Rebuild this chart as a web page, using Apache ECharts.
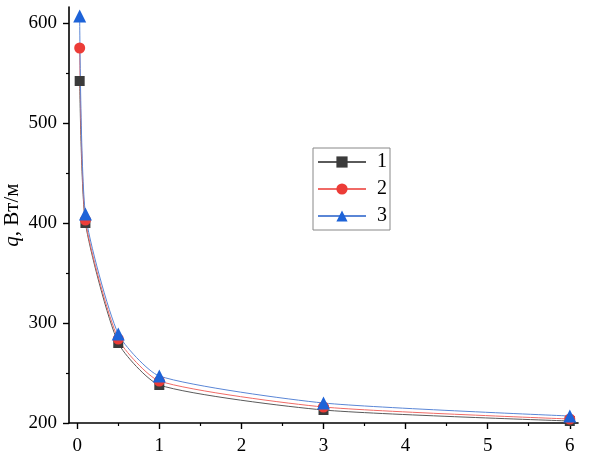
<!DOCTYPE html>
<html>
<head>
<meta charset="utf-8">
<script src="https://cdn.jsdelivr.net/npm/echarts@6/dist/echarts.min.js"></script>
<style>
  html, body { margin: 0; padding: 0; background: #fff; }
  #chart { width: 590px; height: 460px; }
</style>
</head>
<body>
<div id="chart"></div>
<script>
// данные
const xValues = [0.03, 0.1, 0.5, 1, 3, 6];
const series1 = [542, 400, 280, 238, 213, 202];
const series2 = [575, 403, 284, 242, 216, 204];
const series3 = [607, 409, 289, 247, 220, 207];
const seriesNames = ['1', '2', '3'];
const xTicks = [0, 1, 2, 3, 4, 5, 6];
const xMinorTicks = [0.5, 1.5, 2.5, 3.5, 4.5, 5.5];
const yTicks = [200, 300, 400, 500, 600];
const yMinorTicks = [250, 350, 450, 550];

const pairs = (ys) => xValues.map((x, i) => [x, ys[i]]);

const font = 'Liberation Serif, Times New Roman, serif';
const chart = echarts.init(document.getElementById('chart'));

const baseX = {
  type: 'value',
  min: -0.1,
  max: 6.1,
  splitLine: { show: false }
};
const baseY = {
  type: 'value',
  min: 200,
  max: 616,
  splitLine: { show: false }
};

const option = {
  animation: false,
  grid: { left: 69, right: 12, top: 7, bottom: 37, containLabel: false, outerBoundsMode: 'none' },
  legend: {
    left: 313,
    top: 148,
    orient: 'vertical',
    data: seriesNames,
    itemWidth: 48,
    itemHeight: 14,
    itemGap: 7,
    padding: [4, 3, 4, 4],
    borderColor: '#888',
    borderWidth: 1,
    textStyle: { fontFamily: font, fontSize: 20, lineHeight: 20, color: '#000', padding: [0, 0, 0, 6] }
  },
  xAxis: [
    Object.assign({}, baseX, {
      axisLine: { onZero: false, lineStyle: { color: '#000', width: 1.6 } },
      axisTick: { show: true, inside: false, length: 6, lineStyle: { color: '#000', width: 1.4 }, customValues: xTicks },
      axisLabel: { customValues: xTicks, margin: 14, fontFamily: font, fontSize: 19, color: '#000' }
    }),
    Object.assign({}, baseX, {
      position: 'bottom',
      axisLine: { show: false, onZero: false },
      axisTick: { show: true, length: 3, lineStyle: { color: '#000', width: 1.2 }, customValues: xMinorTicks },
      axisLabel: { show: false }
    })
  ],
  yAxis: [
    Object.assign({}, baseY, {
      name: '{i|q}, Вт/м',
      nameLocation: 'middle',
      nameRotate: 90,
      nameGap: 46,
      nameMoveOverlap: false,
      nameTextStyle: {
        fontFamily: font, fontSize: 21, color: '#000',
        rich: { i: { fontFamily: font, fontSize: 21, fontStyle: 'italic', color: '#000' } }
      },
      axisLine: { onZero: false, lineStyle: { color: '#000', width: 1.6 } },
      axisTick: { show: true, length: 6, lineStyle: { color: '#000', width: 1.4 }, customValues: yTicks },
      axisLabel: { customValues: yTicks, margin: 12, fontFamily: font, fontSize: 19, color: '#000' }
    }),
    Object.assign({}, baseY, {
      position: 'left',
      axisLine: { show: false, onZero: false },
      axisTick: { show: true, length: 3, lineStyle: { color: '#000', width: 1.2 }, customValues: yMinorTicks },
      axisLabel: { show: false }
    })
  ],
  series: [
    {
      name: seriesNames[0],
      type: 'line',
      data: pairs(series1),
      smooth: 0.2,
      symbol: 'rect',
      symbolSize: 10,
      itemStyle: { color: '#3b3b3b' },
      lineStyle: { color: '#5a5a5a', width: 1 }
    },
    {
      name: seriesNames[1],
      type: 'line',
      data: pairs(series2),
      smooth: 0.2,
      symbol: 'circle',
      symbolSize: 11,
      itemStyle: { color: '#ec3c37' },
      lineStyle: { color: '#f06a66', width: 1 }
    },
    {
      name: seriesNames[2],
      type: 'line',
      data: pairs(series3),
      smooth: 0.2,
      symbol: 'triangle',
      symbolSize: 13,
      itemStyle: { color: '#1d63d8' },
      lineStyle: { color: '#5a86d6', width: 1 }
    }
  ]
};
chart.setOption(option);
</script>
</body>
</html>
